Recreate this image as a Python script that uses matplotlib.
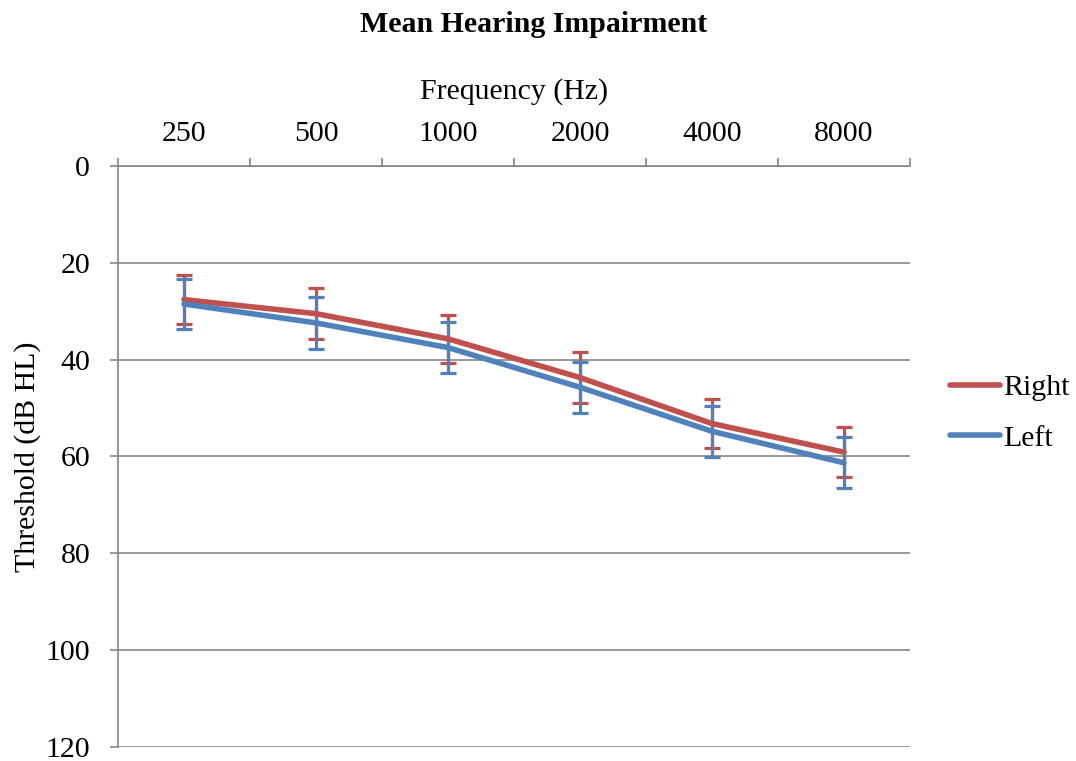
import matplotlib.pyplot as plt
import numpy as np

# Datos
freqs = ['250', '500', '1000', '2000', '4000', '8000']
right = [27.6, 30.5, 35.7, 43.7, 53.2, 59.1]
left = [28.5, 32.4, 37.5, 45.7, 54.8, 61.3]
right_err = [5.0, 5.2, 5.0, 5.2, 5.1, 5.1]
left_err = [5.2, 5.4, 5.3, 5.3, 5.3, 5.3]

red = '#C0504D'
blue = '#4F81BD'
grid_c = '#868686'

plt.rcParams['font.family'] = ['Liberation Serif', 'DejaVu Serif']
fs = 21.5

fig = plt.figure(figsize=(10.76, 7.61), dpi=100)
ax = fig.add_axes([118 / 1076, 14 / 761, 792 / 1076, 581 / 761])

x = np.arange(len(freqs))

# Barras de error
ax.errorbar(x, right, yerr=right_err, fmt='none', ecolor=red, elinewidth=2.3,
            capsize=5.5, capthick=2.3, zorder=2)
ax.errorbar(x, left, yerr=left_err, fmt='none', ecolor=blue, elinewidth=2.3,
            capsize=5.5, capthick=2.3, zorder=3)

ax.plot(x, right, color=red, lw=4.0, solid_capstyle='round', label='Right', zorder=4)
ax.plot(x, left, color=blue, lw=4.0, solid_capstyle='round', label='Left', zorder=4)

# Ejes
ax.set_ylim(120, 0)
ax.set_yticks(np.arange(0, 121, 20))
ax.set_xlim(-0.5, len(freqs) - 0.5)
ax.set_xticks(np.arange(-0.5, len(freqs), 1.0))
ax.set_xticklabels([])
ax.set_xticks(x, minor=True)
ax.set_xticklabels(freqs, minor=True)
ax.tick_params(axis='x', which='both', top=True, bottom=False, labeltop=True, labelbottom=False)
ax.tick_params(axis='x', which='minor', length=0, labelsize=fs, pad=14)
ax.tick_params(axis='x', which='major', length=6, color=grid_c, width=1.2)
ax.tick_params(axis='y', length=6, color=grid_c, width=1.2, labelsize=fs, pad=14)

ax.grid(axis='y', color=grid_c, lw=1.2, zorder=0)
ax.set_axisbelow(True)
for s in ['right', 'bottom']:
    ax.spines[s].set_visible(False)
for s in ['top', 'left']:
    ax.spines[s].set_color(grid_c)
    ax.spines[s].set_linewidth(1.2)

fig.text(514 / 1076, 1 - 92 / 761, 'Frequency (Hz)', fontsize=fs, ha='center', va='center')
ax.set_ylabel('Threshold (dB HL)', fontsize=fs, labelpad=3)

fig.suptitle('Mean Hearing Impairment', fontsize=fs, fontweight='bold', y=0.985, x=534 / 1076)

ax.legend(loc='center left', bbox_to_anchor=(1.035, 0.575), frameon=False, fontsize=fs,
          handlelength=1.7, handletextpad=0.1, labelspacing=0.8, borderaxespad=0)

fig.savefig('out.png', dpi=100)
